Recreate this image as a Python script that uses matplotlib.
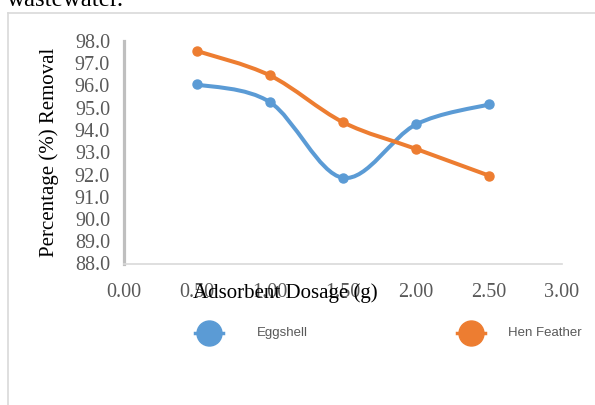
import numpy as np
import matplotlib.pyplot as plt
from matplotlib.path import Path
from matplotlib.patches import PathPatch
from matplotlib.lines import Line2D

dosage = [0.5, 1.0, 1.5, 2.0, 2.5]
eggshell = [96.05, 95.25, 91.85, 94.25, 95.15]
hen_feather = [97.55, 96.45, 94.35, 93.15, 91.95]
series_names = ['Eggshell', 'Hen Feather']
series_colors = ['#5B9BD5', '#ED7D31']
x_ticks = [0.0, 0.5, 1.0, 1.5, 2.0, 2.5, 3.0]
y_ticks = [88.0, 89.0, 90.0, 91.0, 92.0, 93.0, 94.0, 95.0, 96.0, 97.0, 98.0]

serif = ['Liberation Serif', 'DejaVu Serif']
W, H = 595, 405


def smooth_path(x, y):
    # catmull-rom style bezier through the points (excel "smoothed line")
    p = np.column_stack([x, y]).astype(float)
    n = len(p)
    verts = [p[0]]
    codes = [Path.MOVETO]
    for i in range(n - 1):
        p0 = p[i - 1] if i > 0 else p[i]
        p3 = p[i + 2] if i + 2 < n else p[i + 1]
        c1 = p[i] + (p[i + 1] - p0) / 6.0
        c2 = p[i + 1] - (p3 - p[i]) / 6.0
        verts += [c1, c2, p[i + 1]]
        codes += [Path.CURVE4] * 3
    return Path(verts, codes)


fig = plt.figure(figsize=(W / 100, H / 100), dpi=100)
ax = fig.add_axes([124 / W, 1 - 263.5 / H, (562 - 124) / W, (263.5 - 41) / H])

for vals, col in zip([eggshell, hen_feather], series_colors):
    ax.add_patch(PathPatch(smooth_path(dosage, vals), facecolor='none',
                           edgecolor=col, lw=2.9, capstyle='round', zorder=2))
    ax.plot(dosage, vals, linestyle='none', marker='o', markersize=6.5,
            color=col, zorder=3)

ax.set_xlim(0, 3)
ax.set_ylim(88, 98)
ax.set_xticks(x_ticks)
ax.set_xticklabels(['%.2f' % t for t in x_ticks], family=serif, fontsize=14.5, color='#595959')
ax.set_yticks(y_ticks)
ax.set_yticklabels(['%.1f' % t for t in y_ticks], family=serif, fontsize=14.5, color='#595959')
ax.tick_params(axis='x', length=0, pad=14)
ax.tick_params(axis='y', length=0, pad=10)
for s in ['top', 'right']:
    ax.spines[s].set_visible(False)
ax.spines['left'].set_color('#BFBFBF')
ax.spines['left'].set_linewidth(2.3)
ax.spines['bottom'].set_color('#D9D9D9')
ax.spines['bottom'].set_linewidth(1.2)

fig.text(285 / W, 1 - 293 / H, 'Adsorbent Dosage (g)', family=serif, fontsize=15,
         ha='center', va='center', color='black')
fig.text(49 / W, 1 - 152 / H, 'Percentage (%) Removal', family=serif, fontsize=15,
         ha='center', va='center', rotation=90, color='black')

# text above the chart frame
fig.text(7 / W, 1 - 6 / H, 'wastewater.', family=serif, fontsize=18,
         ha='left', va='baseline', color='black')

# chart frame
fig.add_artist(Line2D([8 / W, 1], [1 - 13 / H, 1 - 13 / H], transform=fig.transFigure,
                      color='#D9D9D9', lw=1.2))
fig.add_artist(Line2D([8 / W, 8 / W], [1 - 13 / H, 0], transform=fig.transFigure,
                      color='#D9D9D9', lw=1.2))

# legend
key_x = [209, 471]
text_x = [257, 508]
ly = 1 - 333 / H
for name, col, kx, tx in zip(series_names, series_colors, key_x, text_x):
    fig.add_artist(Line2D([(kx - 14) / W, (kx + 14) / W], [ly, ly], transform=fig.transFigure,
                          color=col, lw=2.5, marker=None))
    fig.add_artist(Line2D([kx / W], [ly], transform=fig.transFigure, color=col,
                          marker='o', markersize=18, linestyle='none'))
    fig.text(tx / W, ly, name, family=['Liberation Sans', 'DejaVu Sans'], fontsize=9.5,
             ha='left', va='center', color='#595959')

fig.savefig('out.png', dpi=100)
